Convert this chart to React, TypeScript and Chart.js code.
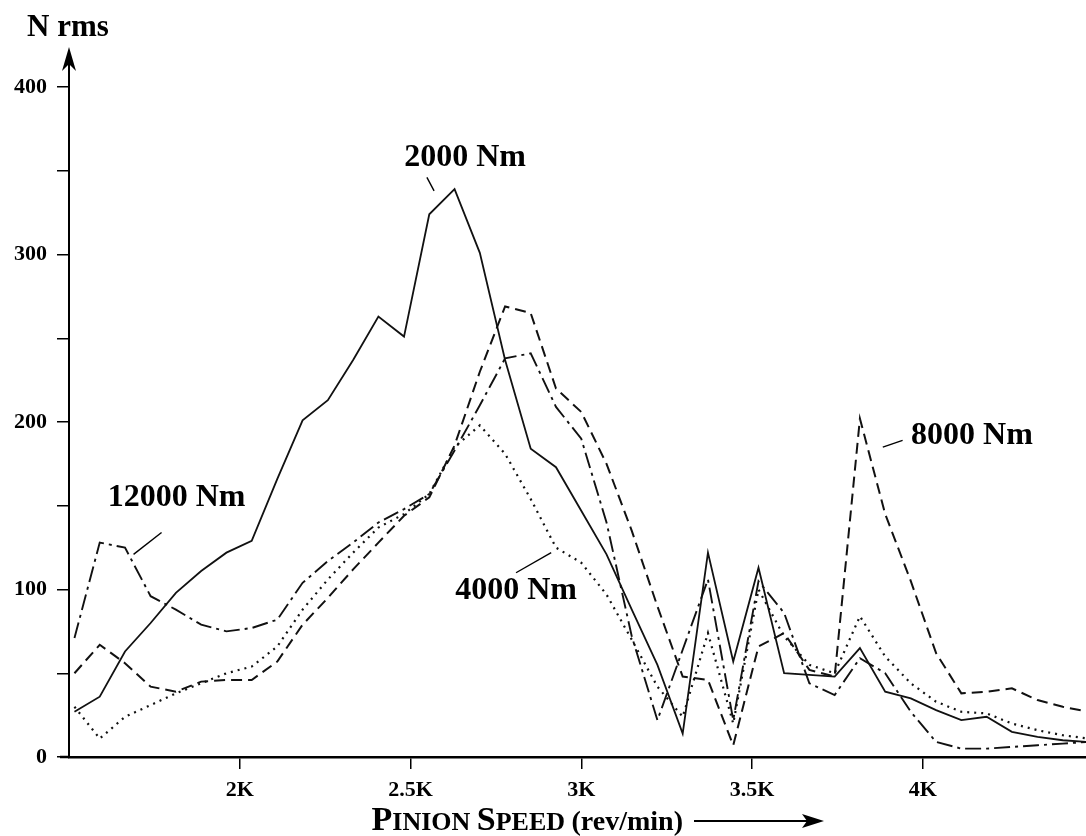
import React, { useEffect, useRef } from "react";
import { Chart, registerables } from "chart.js";

Chart.register(...registerables);

// Pinion speed (rev/min) at each sample
const speeds = [
  1516, 1590, 1664, 1739, 1813, 1887, 1961, 2035, 2110, 2184,
  2258, 2332, 2406, 2481, 2555, 2629, 2703, 2777, 2852, 2926,
  3000, 3074, 3148, 3223, 3297, 3371, 3445, 3519, 3594, 3668,
  3742, 3816, 3890, 3965, 4039, 4113, 4187, 4261, 4336, 4410, 4484,
];

// N rms for each torque
const nm2000 = [
  27, 36, 63, 80, 98, 111, 122, 129, 166, 201,
  213, 237, 263, 251, 324, 339, 301, 237, 184, 173,
  147, 121, 88, 55, 14, 122, 57, 113, 50, 49,
  48, 65, 39, 35, 28, 22, 24, 15, 12, 10, 9,
];
const nm4000 = [
  30, 11, 24, 31, 38, 44, 50, 54, 66, 88,
  106, 122, 137, 145, 157, 185, 198, 181, 154, 125,
  116, 97, 70, 42, 24, 74, 20, 100, 72, 55,
  50, 84, 60, 44, 33, 27, 26, 20, 16, 13, 11,
];
const nm8000 = [
  50, 67, 56, 42, 39, 45, 46, 46, 57, 79,
  95, 112, 128, 144, 155, 186, 230, 269, 265, 220,
  206, 175, 135, 90, 48, 46, 7, 66, 74, 52,
  48, 202, 145, 105, 62, 38, 39, 41, 34, 30, 27,
];
const nm12000 = [
  71, 128, 125, 96, 88, 79, 75, 77, 82, 104,
  117, 128, 140, 148, 157, 183, 210, 238, 241, 209,
  190, 140, 72, 22, 64, 106, 22, 105, 86, 44,
  37, 59, 50, 27, 9, 5, 5, 6, 7, 8, 9,
];

const seriesLabels = ["2000 Nm", "4000 Nm", "8000 Nm", "12000 Nm"];
const xTickValues = [2000, 2500, 3000, 3500, 4000];
const xTickLabels = ["2K", "2.5K", "3K", "3.5K", "4K"];
const yTickValues = [0, 100, 200, 300, 400];
const yTickLabels = ["0", "100", "200", "300", "400"];
const yAxisTitle = "N rms";

// label anchors in data units: text centre, leader line start/end
const labelSpots = [
  { tx: 2660, ty: 358, x1: 2548, y1: 346, x2: 2569, y2: 338 },
  { tx: 2809, ty: 99, x1: 2809, y1: 110, x2: 2912, y2: 122 },
  { tx: 4144, ty: 192, x1: 3883, y1: 185, x2: 3941, y2: 189 },
  { tx: 1815, ty: 155, x1: 1689, y1: 121, x2: 1771, y2: 134 },
];

const FONT = "'Liberation Serif', 'Times New Roman', serif";

const decor = {
  id: "decor",
  afterDraw(chart: any) {
    const { ctx, chartArea } = chart;
    const xs = chart.scales.x;
    const ys = chart.scales.y;
    ctx.save();
    ctx.fillStyle = "#000";
    ctx.strokeStyle = "#000";

    // y axis extension + arrow
    ctx.lineWidth = 2;
    ctx.beginPath();
    ctx.moveTo(chartArea.left, chartArea.top);
    ctx.lineTo(chartArea.left, 58);
    ctx.stroke();
    ctx.beginPath();
    ctx.moveTo(chartArea.left, 47);
    ctx.lineTo(chartArea.left - 7, 71);
    ctx.lineTo(chartArea.left, 64);
    ctx.lineTo(chartArea.left + 7, 71);
    ctx.closePath();
    ctx.fill();

    // x axis extension to the left
    ctx.lineWidth = 2.5;
    ctx.beginPath();
    ctx.moveTo(60, chartArea.bottom);
    ctx.lineTo(chartArea.left, chartArea.bottom);
    ctx.stroke();

    // y title
    ctx.font = `bold 31px ${FONT}`;
    ctx.textAlign = "left";
    ctx.textBaseline = "alphabetic";
    ctx.fillText(yAxisTitle, 27, 36);

    // series labels with leader lines
    ctx.font = `bold 32px ${FONT}`;
    ctx.textAlign = "center";
    ctx.textBaseline = "middle";
    ctx.lineWidth = 1.4;
    labelSpots.forEach((s, i) => {
      ctx.fillText(seriesLabels[i], xs.getPixelForValue(s.tx), ys.getPixelForValue(s.ty));
      ctx.beginPath();
      ctx.moveTo(xs.getPixelForValue(s.x1), ys.getPixelForValue(s.y1));
      ctx.lineTo(xs.getPixelForValue(s.x2), ys.getPixelForValue(s.y2));
      ctx.stroke();
    });

    // x title in small caps
    const parts: [string, number][] = [
      ["P", 34],
      ["INION ", 26],
      ["S", 34],
      ["PEED ", 26],
      ["(rev/min)", 28],
    ];
    let total = 0;
    parts.forEach(([t, sz]) => {
      ctx.font = `bold ${sz}px ${FONT}`;
      total += ctx.measureText(t).width;
    });
    let x = 683 - total;
    const base = 830;
    ctx.textAlign = "left";
    ctx.textBaseline = "alphabetic";
    parts.forEach(([t, sz]) => {
      ctx.font = `bold ${sz}px ${FONT}`;
      ctx.fillText(t, x, base);
      x += ctx.measureText(t).width;
    });
    // arrow
    ctx.lineWidth = 2;
    ctx.beginPath();
    ctx.moveTo(694, 821);
    ctx.lineTo(812, 821);
    ctx.stroke();
    ctx.beginPath();
    ctx.moveTo(824, 821);
    ctx.lineTo(802, 814);
    ctx.lineTo(807, 821);
    ctx.lineTo(802, 828);
    ctx.closePath();
    ctx.fill();

    ctx.restore();
  },
};

export default function App() {
  const ref = useRef<HTMLCanvasElement>(null);

  useEffect(() => {
    const canvas = ref.current!;
    const pts = (arr: number[]) => speeds.map((s, i) => ({ x: s, y: arr[i] }));
    const chart = new Chart(canvas, {
      type: "line",
      data: {
        datasets: [
          {
            label: seriesLabels[0],
            data: pts(nm2000),
            borderColor: "#111",
            borderWidth: 1.8,
            pointRadius: 0,
            tension: 0,
          },
          {
            label: seriesLabels[1],
            data: pts(nm4000),
            borderColor: "#111",
            borderWidth: 2.2,
            borderDash: [2, 5],
            pointRadius: 0,
            tension: 0,
          },
          {
            label: seriesLabels[2],
            data: pts(nm8000),
            borderColor: "#111",
            borderWidth: 2,
            borderDash: [11, 6],
            pointRadius: 0,
            tension: 0,
          },
          {
            label: seriesLabels[3],
            data: pts(nm12000),
            borderColor: "#111",
            borderWidth: 1.9,
            borderDash: [16, 5, 3, 5],
            pointRadius: 0,
            tension: 0,
          },
        ],
      },
      options: {
        responsive: false,
        animation: false,
        layout: { padding: { top: 87, right: 0, left: 0, bottom: 0 } },
        plugins: {
          legend: { display: false },
          tooltip: { enabled: false },
        },
        scales: {
          x: {
            type: "linear",
            min: 1500,
            max: 4478,
            afterBuildTicks: (s: any) => {
              s.ticks = xTickValues.map((v) => ({ value: v }));
            },
            afterFit: (s: any) => {
              s.height = 79;
            },
            ticks: {
              autoSkip: false,
              maxRotation: 0,
              padding: 8,
              color: "#000",
              font: { family: FONT, size: 22, weight: "bold" },
              callback: (v: any) => {
                const k = xTickValues.indexOf(Number(v));
                return k >= 0 ? xTickLabels[k] : "";
              },
            },
            grid: {
              drawOnChartArea: false,
              drawTicks: true,
              tickLength: 12,
              color: "#000",
              lineWidth: 1.5,
            },
            border: { display: true, color: "#000", width: 2.5 },
          },
          y: {
            type: "linear",
            min: 0,
            max: 400,
            afterFit: (s: any) => {
              s.width = 69;
            },
            ticks: {
              stepSize: 50,
              padding: 10,
              color: "#000",
              font: { family: FONT, size: 22, weight: "bold" },
              callback: (v: any) => {
                const k = yTickValues.indexOf(Number(v));
                return k >= 0 ? yTickLabels[k] : "";
              },
            },
            grid: {
              drawOnChartArea: false,
              drawTicks: true,
              tickLength: 12,
              color: "#000",
              lineWidth: 1.5,
            },
            border: { display: true, color: "#000", width: 2 },
          },
        },
      },
      plugins: [decor],
    } as any);
    return () => chart.destroy();
  }, []);

  return (
    <div
      style={{
        position: "absolute",
        left: 0,
        top: 0,
        width: 1086,
        height: 836,
        background: "#fff",
      }}
    >
      <canvas ref={ref} width={1086} height={836} style={{ display: "block" }} />
    </div>
  );
}
